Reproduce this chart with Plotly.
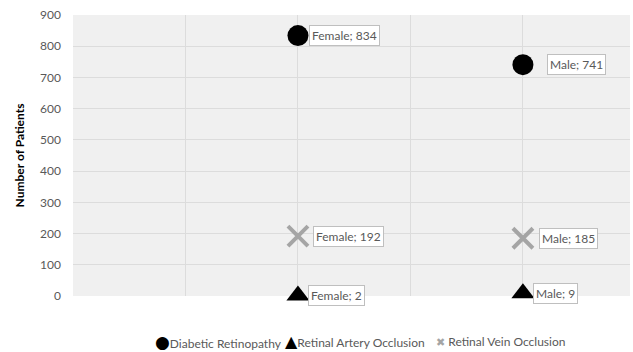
import plotly.graph_objects as go

groups = ["Female", "Male"]
group_x = [1, 2]
series_names = ["Diabetic Retinopathy", "Retinal Artery Occlusion", "Retinal Vein Occlusion"]
diabetic_retinopathy = [834, 741]
retinal_artery_occlusion = [2, 9]
retinal_vein_occlusion = [192, 185]
y_ticks = [0, 100, 200, 300, 400, 500, 600, 700, 800, 900]

values = [diabetic_retinopathy, retinal_artery_occlusion, retinal_vein_occlusion]
styles = [
    dict(symbol="circle", size=21, color="#000000", line=dict(width=0)),
    dict(symbol="triangle-up", size=20, color="#000000", line=dict(width=0)),
    dict(symbol="x-thin", size=20, color="#a5a5a5", line=dict(width=4, color="#a5a5a5")),
]
label_shift = [[11, 24], [10, 10], [15, 16]]

# legend glyphs (text) and their placement in paper coordinates
legend_glyphs = [("●", "#000000", 17), ("▲", "#000000", 16), ("✖", "#a5a5a5", 11)]
legend_x = [0.1436, 0.377, 0.649]
legend_y = -0.1637

font_family = "Lato, 'Liberation Sans', sans-serif"
fig = go.Figure()
for name, vals, st in zip(series_names, values, styles):
    fig.add_trace(go.Scatter(x=group_x, y=vals, mode="markers", name=name, marker=st,
                             showlegend=False, cliponaxis=False))

for si, vals in enumerate(values):
    for gi, v in enumerate(vals):
        fig.add_annotation(
            x=group_x[gi], y=v, text=f"{groups[gi]}; {v}", showarrow=False,
            xanchor="left", yanchor="middle", xshift=label_shift[si][gi],
            font=dict(family=font_family, size=12, color="#595959"),
            bgcolor="#ffffff", bordercolor="#bfbfbf", borderwidth=1, borderpad=2,
        )

for name, (g, col, sz), lx in zip(series_names, legend_glyphs, legend_x):
    sep = " " if g == "✖" else ""
    fig.add_annotation(
        xref="paper", yref="paper", x=lx, y=legend_y, showarrow=False,
        xanchor="left", yanchor="middle",
        text=f'<span style="font-family:DejaVu Sans;font-size:{sz}px;color:{col}">{g}</span>{sep}{name}',
        font=dict(family=font_family, size=12, color="#595959"),
    )

fig.update_layout(
    width=633, height=352,
    margin=dict(l=73, r=3, t=15, b=56),
    paper_bgcolor="#ffffff", plot_bgcolor="#f0f0f0",
    font=dict(family=font_family, size=12, color="#595959"),
    showlegend=False,
    xaxis=dict(range=[0, 2.476], tickvals=[0.5, 1, 1.5, 2], showticklabels=False,
               showgrid=True, gridcolor="#dcdcdc", zeroline=False, showline=False),
    yaxis=dict(range=[0, 900], tickvals=y_ticks, showgrid=True, gridcolor="#dcdcdc",
               zeroline=False, showline=False, ticks="", ticklabelstandoff=11,
               tickfont=dict(size=12, color="#595959"),
               title=dict(text="<b>Number of Patients</b>", font=dict(size=12, color="#000000"), standoff=12)),
)

fig.write_html("out.html")
